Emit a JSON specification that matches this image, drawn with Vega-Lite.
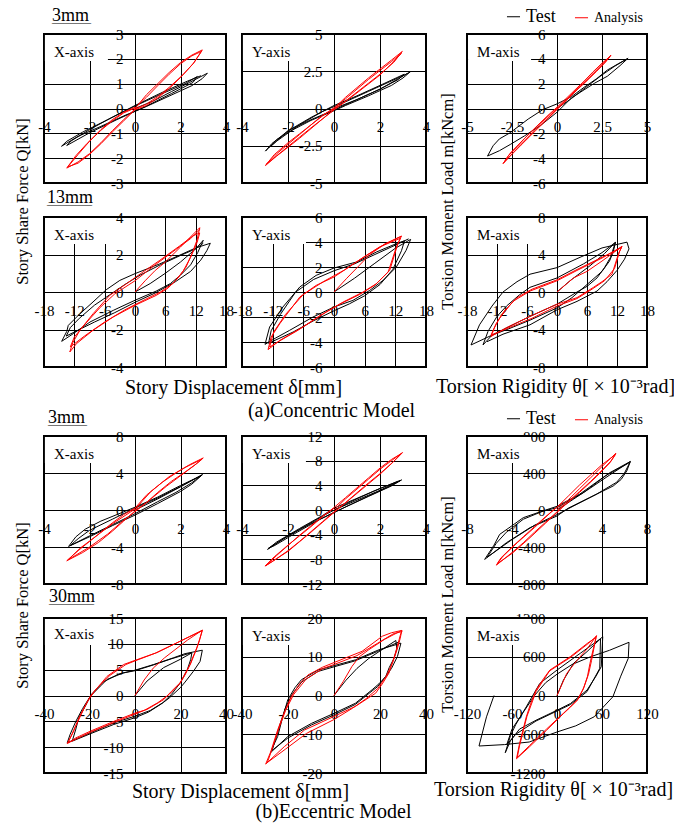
{
"$schema":"https://vega.github.io/schema/vega-lite/v6.json",
"padding":{"left":13,"top":6,"right":5,"bottom":0},
"columns":4,
"bounds":"flush",
"spacing":{"row":34,"column":16},
"resolve":{"scale":{"color":"independent"},"legend":{"color":"independent"}},
"config":{
 "font":"Liberation Serif",
 "view":{"stroke":"black","strokeWidth":2},
 "axis":{"domain":false,"ticks":false,"tickSize":0,"tickCount":20,"grid":true,"gridColor":"black","gridWidth":1,"gridOpacity":1,"labelFontSize":15,"labelColor":"black","labelOverlap":false,"labelFlush":false,"labelBound":false,"labelFont":"Liberation Serif","titleFontWeight":"normal","titleFontSize":20,"titleColor":"black","titleFont":"Liberation Serif","titleBaseline":"middle","titleAlign":"center","labelExpr":"'' + datum.value"},
 "axisX":{"labelPadding":11},
 "axisY":{"labelPadding":12,"titleFontSize":16.5},
 "title":{"font":"Liberation Serif","fontSize":18,"fontWeight":"normal","color":"black","anchor":"start","frame":"group","subtitleColor":"black","subtitleFont":"Liberation Serif"},
 "line":{"strokeWidth":1},
 "text":{"font":"Liberation Serif","color":"black"}
},
"datasets":{
"p1":[
{"s":"Test","i":0,"x":0,"y":0},{"s":"Test","i":1,"x":0.8,"y":0.3},{"s":"Test","i":2,"x":1.6,"y":0.68},{"s":"Test","i":3,"x":2.4,"y":1.05},{"s":"Test","i":4,"x":3.18,"y":1.42},{"s":"Test","i":5,"x":2.95,"y":1.2},{"s":"Test","i":6,"x":2.5,"y":0.92},{"s":"Test","i":7,"x":1.5,"y":0.5},{"s":"Test","i":8,"x":0.5,"y":0.08},{"s":"Test","i":9,"x":-0.5,"y":-0.3},{"s":"Test","i":10,"x":-1.5,"y":-0.72},{"s":"Test","i":11,"x":-2.5,"y":-1.12},{"s":"Test","i":12,"x":-3.23,"y":-1.52},{"s":"Test","i":13,"x":-3.0,"y":-1.32},{"s":"Test","i":14,"x":-2.3,"y":-0.95},{"s":"Test","i":15,"x":-1.2,"y":-0.45},{"s":"Test","i":16,"x":0,"y":0.1},{"s":"Test","i":17,"x":1.2,"y":0.6},{"s":"Test","i":18,"x":2.2,"y":1.0},{"s":"Test","i":19,"x":2.74,"y":1.29},{"s":"Test","i":20,"x":2.55,"y":1.05},{"s":"Test","i":21,"x":1.6,"y":0.6},{"s":"Test","i":22,"x":0.4,"y":0.05},{"s":"Test","i":23,"x":-0.8,"y":-0.45},{"s":"Test","i":24,"x":-2.0,"y":-0.98},{"s":"Test","i":25,"x":-3.0,"y":-1.49},{"s":"Test","i":26,"x":-2.8,"y":-1.3},{"s":"Test","i":27,"x":-2.0,"y":-0.85},{"s":"Test","i":28,"x":-1.0,"y":-0.35},{"s":"Test","i":29,"x":0,"y":0.12},{"s":"Test","i":30,"x":1.2,"y":0.65},{"s":"Test","i":31,"x":2.3,"y":1.1},{"s":"Test","i":32,"x":2.9,"y":1.32},
{"s":"Analysis","i":0,"x":0,"y":0},{"s":"Analysis","i":1,"x":0.5,"y":0.55},{"s":"Analysis","i":2,"x":1,"y":1.0},{"s":"Analysis","i":3,"x":1.5,"y":1.45},{"s":"Analysis","i":4,"x":2,"y":1.85},{"s":"Analysis","i":5,"x":2.5,"y":2.15},{"s":"Analysis","i":6,"x":2.96,"y":2.36},{"s":"Analysis","i":7,"x":2.6,"y":1.85},{"s":"Analysis","i":8,"x":2.1,"y":1.35},{"s":"Analysis","i":9,"x":1.5,"y":0.85},{"s":"Analysis","i":10,"x":1,"y":0.48},{"s":"Analysis","i":11,"x":0.5,"y":0.18},{"s":"Analysis","i":12,"x":0,"y":-0.02},{"s":"Analysis","i":13,"x":-0.5,"y":-0.45},{"s":"Analysis","i":14,"x":-1,"y":-0.9},{"s":"Analysis","i":15,"x":-1.5,"y":-1.38},{"s":"Analysis","i":16,"x":-2,"y":-1.82},{"s":"Analysis","i":17,"x":-2.5,"y":-2.15},{"s":"Analysis","i":18,"x":-3,"y":-2.4},{"s":"Analysis","i":19,"x":-2.6,"y":-1.9},{"s":"Analysis","i":20,"x":-2.1,"y":-1.4},{"s":"Analysis","i":21,"x":-1.5,"y":-0.88},{"s":"Analysis","i":22,"x":-1,"y":-0.5},{"s":"Analysis","i":23,"x":-0.5,"y":-0.18},{"s":"Analysis","i":24,"x":0,"y":0.02},{"s":"Analysis","i":25,"x":0.5,"y":0.45},{"s":"Analysis","i":26,"x":1,"y":0.92},{"s":"Analysis","i":27,"x":1.5,"y":1.38},{"s":"Analysis","i":28,"x":2,"y":1.8},{"s":"Analysis","i":29,"x":2.5,"y":2.12},{"s":"Analysis","i":30,"x":2.92,"y":2.3},{"s":"Analysis","i":31,"x":2.55,"y":1.8},{"s":"Analysis","i":32,"x":2,"y":1.25},{"s":"Analysis","i":33,"x":1.5,"y":0.8},{"s":"Analysis","i":34,"x":1,"y":0.42},{"s":"Analysis","i":35,"x":0.5,"y":0.12},{"s":"Analysis","i":36,"x":0,"y":-0.05},{"s":"Analysis","i":37,"x":-0.5,"y":-0.5},{"s":"Analysis","i":38,"x":-1,"y":-0.95},{"s":"Analysis","i":39,"x":-1.5,"y":-1.42},{"s":"Analysis","i":40,"x":-2,"y":-1.85},{"s":"Analysis","i":41,"x":-2.5,"y":-2.2},{"s":"Analysis","i":42,"x":-2.95,"y":-2.35},{"s":"Analysis","i":43,"x":-2.5,"y":-1.85},{"s":"Analysis","i":44,"x":-2,"y":-1.32},{"s":"Analysis","i":45,"x":-1.5,"y":-0.85},{"s":"Analysis","i":46,"x":-1,"y":-0.45},{"s":"Analysis","i":47,"x":-0.5,"y":-0.15},{"s":"Analysis","i":48,"x":0,"y":0.05}
],
"p2":[
{"s":"Test","i":0,"x":0,"y":0},{"s":"Test","i":1,"x":1,"y":0.6},{"s":"Test","i":2,"x":2,"y":1.3},{"s":"Test","i":3,"x":2.8,"y":2.0},{"s":"Test","i":4,"x":3.33,"y":2.48},{"s":"Test","i":5,"x":3.0,"y":2.05},{"s":"Test","i":6,"x":2.5,"y":1.55},{"s":"Test","i":7,"x":1.5,"y":0.85},{"s":"Test","i":8,"x":0.5,"y":0.2},{"s":"Test","i":9,"x":0,"y":-0.15},{"s":"Test","i":10,"x":-1,"y":-0.8},{"s":"Test","i":11,"x":-2,"y":-1.6},{"s":"Test","i":12,"x":-2.5,"y":-2.1},{"s":"Test","i":13,"x":-2.98,"y":-2.86},{"s":"Test","i":14,"x":-2.7,"y":-2.35},{"s":"Test","i":15,"x":-2,"y":-1.5},{"s":"Test","i":16,"x":-1,"y":-0.6},{"s":"Test","i":17,"x":0,"y":0.2},{"s":"Test","i":18,"x":1,"y":0.85},{"s":"Test","i":19,"x":2,"y":1.55},{"s":"Test","i":20,"x":2.7,"y":2.05},{"s":"Test","i":21,"x":3.05,"y":2.3},{"s":"Test","i":22,"x":2.8,"y":1.95},{"s":"Test","i":23,"x":2,"y":1.3},{"s":"Test","i":24,"x":1,"y":0.6},{"s":"Test","i":25,"x":0,"y":-0.1},{"s":"Test","i":26,"x":-1,"y":-0.75},{"s":"Test","i":27,"x":-2,"y":-1.5},{"s":"Test","i":28,"x":-2.8,"y":-2.6},{"s":"Test","i":29,"x":-2.5,"y":-2.2},{"s":"Test","i":30,"x":-1.5,"y":-1.1},{"s":"Test","i":31,"x":-0.5,"y":-0.2},{"s":"Test","i":32,"x":0.5,"y":0.45},{"s":"Test","i":33,"x":1.5,"y":1.15},{"s":"Test","i":34,"x":2.5,"y":1.85},{"s":"Test","i":35,"x":3.2,"y":2.35},
{"s":"Analysis","i":0,"x":0,"y":0},{"s":"Analysis","i":1,"x":0.5,"y":0.75},{"s":"Analysis","i":2,"x":1,"y":1.4},{"s":"Analysis","i":3,"x":1.5,"y":2.05},{"s":"Analysis","i":4,"x":2,"y":2.65},{"s":"Analysis","i":5,"x":2.5,"y":3.25},{"s":"Analysis","i":6,"x":2.97,"y":3.83},{"s":"Analysis","i":7,"x":2.6,"y":3.1},{"s":"Analysis","i":8,"x":2,"y":2.3},{"s":"Analysis","i":9,"x":1.5,"y":1.7},{"s":"Analysis","i":10,"x":1,"y":1.1},{"s":"Analysis","i":11,"x":0.5,"y":0.5},{"s":"Analysis","i":12,"x":0,"y":-0.05},{"s":"Analysis","i":13,"x":-0.5,"y":-0.7},{"s":"Analysis","i":14,"x":-1,"y":-1.35},{"s":"Analysis","i":15,"x":-1.5,"y":-2.0},{"s":"Analysis","i":16,"x":-2,"y":-2.6},{"s":"Analysis","i":17,"x":-2.5,"y":-3.2},{"s":"Analysis","i":18,"x":-2.98,"y":-3.83},{"s":"Analysis","i":19,"x":-2.6,"y":-3.1},{"s":"Analysis","i":20,"x":-2,"y":-2.3},{"s":"Analysis","i":21,"x":-1.5,"y":-1.7},{"s":"Analysis","i":22,"x":-1,"y":-1.1},{"s":"Analysis","i":23,"x":-0.5,"y":-0.5},{"s":"Analysis","i":24,"x":0,"y":0.05},{"s":"Analysis","i":25,"x":0.5,"y":0.65},{"s":"Analysis","i":26,"x":1,"y":1.3},{"s":"Analysis","i":27,"x":1.5,"y":1.95},{"s":"Analysis","i":28,"x":2,"y":2.55},{"s":"Analysis","i":29,"x":2.5,"y":3.15},{"s":"Analysis","i":30,"x":2.93,"y":3.7},{"s":"Analysis","i":31,"x":2.5,"y":3.0},{"s":"Analysis","i":32,"x":2,"y":2.25},{"s":"Analysis","i":33,"x":1,"y":1.05},{"s":"Analysis","i":34,"x":0,"y":-0.1},{"s":"Analysis","i":35,"x":-1,"y":-1.3},{"s":"Analysis","i":36,"x":-2,"y":-2.55},{"s":"Analysis","i":37,"x":-2.95,"y":-3.75},{"s":"Analysis","i":38,"x":-2.5,"y":-3.05},{"s":"Analysis","i":39,"x":-1.5,"y":-1.75},{"s":"Analysis","i":40,"x":-0.5,"y":-0.45},{"s":"Analysis","i":41,"x":0,"y":0}
],
"p3":[
{"s":"Test","i":0,"x":0,"y":0},{"s":"Test","i":1,"x":0.8,"y":0.8},{"s":"Test","i":2,"x":1.6,"y":1.7},{"s":"Test","i":3,"x":2.5,"y":2.7},{"s":"Test","i":4,"x":3.2,"y":3.4},{"s":"Test","i":5,"x":3.95,"y":4.05},{"s":"Test","i":6,"x":3.5,"y":3.45},{"s":"Test","i":7,"x":2.8,"y":2.6},{"s":"Test","i":8,"x":2.1,"y":2.05},{"s":"Test","i":9,"x":1.5,"y":1.5},{"s":"Test","i":10,"x":0.8,"y":0.85},{"s":"Test","i":11,"x":0,"y":-0.3},{"s":"Test","i":12,"x":-0.9,"y":-1.35},{"s":"Test","i":13,"x":-1.8,"y":-2.2},{"s":"Test","i":14,"x":-2.6,"y":-2.9},{"s":"Test","i":15,"x":-3.2,"y":-3.4},{"s":"Test","i":16,"x":-3.86,"y":-3.83},{"s":"Test","i":17,"x":-3.55,"y":-3.0},{"s":"Test","i":18,"x":-3.2,"y":-2.45},{"s":"Test","i":19,"x":-2.6,"y":-1.95},{"s":"Test","i":20,"x":-1.6,"y":-0.85},{"s":"Test","i":21,"x":-0.8,"y":-0.1},{"s":"Test","i":22,"x":0,"y":0.37},{"s":"Test","i":23,"x":0.8,"y":0.95},{"s":"Test","i":24,"x":1.5,"y":1.7},{"s":"Test","i":25,"x":2.2,"y":2.4},{"s":"Test","i":26,"x":2.8,"y":3.1},{"s":"Test","i":27,"x":3.4,"y":3.6},{"s":"Test","i":28,"x":3.9,"y":4.0},
{"s":"Analysis","i":0,"x":0,"y":0},{"s":"Analysis","i":1,"x":0.5,"y":0.7},{"s":"Analysis","i":2,"x":1,"y":1.4},{"s":"Analysis","i":3,"x":1.5,"y":2.1},{"s":"Analysis","i":4,"x":2,"y":2.8},{"s":"Analysis","i":5,"x":2.5,"y":3.55},{"s":"Analysis","i":6,"x":3.0,"y":4.3},{"s":"Analysis","i":7,"x":2.7,"y":3.75},{"s":"Analysis","i":8,"x":2.2,"y":3.0},{"s":"Analysis","i":9,"x":1.6,"y":2.15},{"s":"Analysis","i":10,"x":1,"y":1.35},{"s":"Analysis","i":11,"x":0.5,"y":0.65},{"s":"Analysis","i":12,"x":0,"y":-0.05},{"s":"Analysis","i":13,"x":-0.5,"y":-0.75},{"s":"Analysis","i":14,"x":-1,"y":-1.45},{"s":"Analysis","i":15,"x":-1.5,"y":-2.15},{"s":"Analysis","i":16,"x":-2,"y":-2.9},{"s":"Analysis","i":17,"x":-2.5,"y":-3.65},{"s":"Analysis","i":18,"x":-3.0,"y":-4.45},{"s":"Analysis","i":19,"x":-2.7,"y":-3.8},{"s":"Analysis","i":20,"x":-2.2,"y":-3.05},{"s":"Analysis","i":21,"x":-1.6,"y":-2.1},{"s":"Analysis","i":22,"x":-1,"y":-1.25},{"s":"Analysis","i":23,"x":-0.5,"y":-0.55},{"s":"Analysis","i":24,"x":0,"y":0.1},{"s":"Analysis","i":25,"x":0.5,"y":0.8},{"s":"Analysis","i":26,"x":1,"y":1.5},{"s":"Analysis","i":27,"x":1.5,"y":2.2},{"s":"Analysis","i":28,"x":2,"y":2.95},{"s":"Analysis","i":29,"x":2.5,"y":3.65},{"s":"Analysis","i":30,"x":2.95,"y":4.2},{"s":"Analysis","i":31,"x":2.6,"y":3.6},{"s":"Analysis","i":32,"x":2,"y":2.75},{"s":"Analysis","i":33,"x":1.4,"y":1.9},{"s":"Analysis","i":34,"x":0.8,"y":1.05},{"s":"Analysis","i":35,"x":0.2,"y":0.2},{"s":"Analysis","i":36,"x":-0.5,"y":-0.8},{"s":"Analysis","i":37,"x":-1.2,"y":-1.8},{"s":"Analysis","i":38,"x":-2,"y":-2.95},{"s":"Analysis","i":39,"x":-2.95,"y":-4.35},{"s":"Analysis","i":40,"x":-2.6,"y":-3.6},{"s":"Analysis","i":41,"x":-1.8,"y":-2.4},{"s":"Analysis","i":42,"x":-1,"y":-1.3},{"s":"Analysis","i":43,"x":0,"y":0.05}
],
"p4":[
{"s":"Test","i":0,"x":0,"y":0},{"s":"Test","i":1,"x":3,"y":0.45},{"s":"Test","i":2,"x":6,"y":1.0},{"s":"Test","i":3,"x":9,"y":1.6},{"s":"Test","i":4,"x":12,"y":2.3},{"s":"Test","i":5,"x":13.5,"y":2.76},{"s":"Test","i":6,"x":12.4,"y":2.1},{"s":"Test","i":7,"x":11,"y":1.45},{"s":"Test","i":8,"x":9,"y":0.9},{"s":"Test","i":9,"x":7,"y":0.45},{"s":"Test","i":10,"x":4.2,"y":0.05},{"s":"Test","i":11,"x":0,"y":-0.44},{"s":"Test","i":12,"x":-4.3,"y":-0.98},{"s":"Test","i":13,"x":-8.9,"y":-1.6},{"s":"Test","i":14,"x":-12.2,"y":-2.22},{"s":"Test","i":15,"x":-14.5,"y":-2.63},{"s":"Test","i":16,"x":-13.5,"y":-2.1},{"s":"Test","i":17,"x":-13.2,"y":-1.78},{"s":"Test","i":18,"x":-10.9,"y":-1.16},{"s":"Test","i":19,"x":-8.3,"y":-0.53},{"s":"Test","i":20,"x":-5.7,"y":0.12},{"s":"Test","i":21,"x":-3,"y":0.62},{"s":"Test","i":22,"x":0,"y":0.98},{"s":"Test","i":23,"x":4.9,"y":1.5},{"s":"Test","i":24,"x":8.8,"y":1.96},{"s":"Test","i":25,"x":12,"y":2.35},{"s":"Test","i":26,"x":14.9,"y":2.6},{"s":"Test","i":27,"x":14.2,"y":2.2},{"s":"Test","i":28,"x":13,"y":1.7},{"s":"Test","i":29,"x":11,"y":1.1},{"s":"Test","i":30,"x":8,"y":0.55},{"s":"Test","i":31,"x":4,"y":-0.05},{"s":"Test","i":32,"x":0,"y":-0.55},{"s":"Test","i":33,"x":-4,"y":-1.1},{"s":"Test","i":34,"x":-8,"y":-1.6},{"s":"Test","i":35,"x":-11,"y":-2.0},{"s":"Test","i":36,"x":-13.6,"y":-2.35},{"s":"Test","i":37,"x":-12.8,"y":-1.9},{"s":"Test","i":38,"x":-11,"y":-1.4},{"s":"Test","i":39,"x":-8,"y":-0.7},{"s":"Test","i":40,"x":-5,"y":-0.15},{"s":"Test","i":41,"x":-2,"y":0.4},{"s":"Test","i":42,"x":1,"y":0.9},{"s":"Test","i":43,"x":5,"y":1.45},{"s":"Test","i":44,"x":9,"y":1.95},{"s":"Test","i":45,"x":12,"y":2.3},{"s":"Test","i":46,"x":13.5,"y":2.6},
{"s":"Analysis","i":0,"x":0,"y":0},{"s":"Analysis","i":1,"x":2,"y":0.6},{"s":"Analysis","i":2,"x":4,"y":1.15},{"s":"Analysis","i":3,"x":6,"y":1.6},{"s":"Analysis","i":4,"x":9,"y":2.4},{"s":"Analysis","i":5,"x":12.8,"y":3.43},{"s":"Analysis","i":6,"x":12.3,"y":2.8},{"s":"Analysis","i":7,"x":11.5,"y":2.2},{"s":"Analysis","i":8,"x":10.1,"y":1.33},{"s":"Analysis","i":9,"x":8.5,"y":0.75},{"s":"Analysis","i":10,"x":6.5,"y":0.2},{"s":"Analysis","i":11,"x":4.2,"y":-0.18},{"s":"Analysis","i":12,"x":0,"y":-0.71},{"s":"Analysis","i":13,"x":-4.3,"y":-1.33},{"s":"Analysis","i":14,"x":-8.3,"y":-2.04},{"s":"Analysis","i":15,"x":-11.6,"y":-2.76},{"s":"Analysis","i":16,"x":-12.9,"y":-3.2},{"s":"Analysis","i":17,"x":-12.3,"y":-2.7},{"s":"Analysis","i":18,"x":-10.9,"y":-2.04},{"s":"Analysis","i":19,"x":-8.3,"y":-1.16},{"s":"Analysis","i":20,"x":-5,"y":-0.18},{"s":"Analysis","i":21,"x":-1.7,"y":0.44},{"s":"Analysis","i":22,"x":1.6,"y":1.07},{"s":"Analysis","i":23,"x":4.9,"y":1.69},{"s":"Analysis","i":24,"x":8.8,"y":2.45},{"s":"Analysis","i":25,"x":11.5,"y":3.0},{"s":"Analysis","i":26,"x":12.8,"y":3.15},{"s":"Analysis","i":27,"x":12.3,"y":2.65},{"s":"Analysis","i":28,"x":11,"y":1.85},{"s":"Analysis","i":29,"x":9.5,"y":1.1},{"s":"Analysis","i":30,"x":7.5,"y":0.45},{"s":"Analysis","i":31,"x":5,"y":0},{"s":"Analysis","i":32,"x":2,"y":-0.4},{"s":"Analysis","i":33,"x":-2,"y":-0.95},{"s":"Analysis","i":34,"x":-6,"y":-1.6},{"s":"Analysis","i":35,"x":-10,"y":-2.35},{"s":"Analysis","i":36,"x":-12.8,"y":-2.93},{"s":"Analysis","i":37,"x":-12,"y":-2.4},{"s":"Analysis","i":38,"x":-10,"y":-1.75},{"s":"Analysis","i":39,"x":-7,"y":-0.85},{"s":"Analysis","i":40,"x":-4,"y":-0.1},{"s":"Analysis","i":41,"x":0,"y":0.6},{"s":"Analysis","i":42,"x":4,"y":1.45},{"s":"Analysis","i":43,"x":8,"y":2.25},{"s":"Analysis","i":44,"x":11,"y":2.85},{"s":"Analysis","i":45,"x":12.9,"y":3.35}
],
"p5":[
{"s":"Test","i":0,"x":0,"y":0},{"s":"Test","i":1,"x":4,"y":1.1},{"s":"Test","i":2,"x":8,"y":2.3},{"s":"Test","i":3,"x":12,"y":3.5},{"s":"Test","i":4,"x":15,"y":4.21},{"s":"Test","i":5,"x":14.1,"y":3.33},{"s":"Test","i":6,"x":12.2,"y":2.0},{"s":"Test","i":7,"x":9.6,"y":0.93},{"s":"Test","i":8,"x":7,"y":0.13},{"s":"Test","i":9,"x":3.7,"y":-0.67},{"s":"Test","i":10,"x":0,"y":-1.2},{"s":"Test","i":11,"x":-4.1,"y":-2.0},{"s":"Test","i":12,"x":-8.7,"y":-3.07},{"s":"Test","i":13,"x":-11.5,"y":-3.7},{"s":"Test","i":14,"x":-13.5,"y":-4.19},{"s":"Test","i":15,"x":-12.6,"y":-2.8},{"s":"Test","i":16,"x":-10,"y":-1.2},{"s":"Test","i":17,"x":-6.7,"y":0.4},{"s":"Test","i":18,"x":-3.5,"y":1.33},{"s":"Test","i":19,"x":0,"y":1.92},{"s":"Test","i":20,"x":4.4,"y":2.4},{"s":"Test","i":21,"x":8.3,"y":3.2},{"s":"Test","i":22,"x":12.2,"y":3.87},{"s":"Test","i":23,"x":13.8,"y":4.1},{"s":"Test","i":24,"x":13.2,"y":3.3},{"s":"Test","i":25,"x":11.5,"y":1.8},{"s":"Test","i":26,"x":9,"y":0.6},{"s":"Test","i":27,"x":6,"y":-0.3},{"s":"Test","i":28,"x":3,"y":-0.95},{"s":"Test","i":29,"x":0,"y":-1.5},{"s":"Test","i":30,"x":-4,"y":-2.3},{"s":"Test","i":31,"x":-8,"y":-3.2},{"s":"Test","i":32,"x":-12.8,"y":-4.1},{"s":"Test","i":33,"x":-12.3,"y":-3.1},{"s":"Test","i":34,"x":-10.5,"y":-1.8},{"s":"Test","i":35,"x":-7.5,"y":0.0},{"s":"Test","i":36,"x":-4,"y":1.0},{"s":"Test","i":37,"x":0,"y":1.7},{"s":"Test","i":38,"x":4,"y":2.25},{"s":"Test","i":39,"x":8,"y":3.0},{"s":"Test","i":40,"x":12,"y":3.75},{"s":"Test","i":41,"x":14.6,"y":4.25},
{"s":"Analysis","i":0,"x":0,"y":0},{"s":"Analysis","i":1,"x":2.5,"y":1.1},{"s":"Analysis","i":2,"x":5,"y":2.15},{"s":"Analysis","i":3,"x":7,"y":3.0},{"s":"Analysis","i":4,"x":10,"y":3.85},{"s":"Analysis","i":5,"x":13.2,"y":4.48},{"s":"Analysis","i":6,"x":12.5,"y":3.87},{"s":"Analysis","i":7,"x":10.9,"y":1.73},{"s":"Analysis","i":8,"x":8.3,"y":0.67},{"s":"Analysis","i":9,"x":5.7,"y":0},{"s":"Analysis","i":10,"x":1.8,"y":-0.8},{"s":"Analysis","i":11,"x":-1.5,"y":-1.6},{"s":"Analysis","i":12,"x":-6.1,"y":-2.8},{"s":"Analysis","i":13,"x":-10.6,"y":-3.87},{"s":"Analysis","i":14,"x":-12.9,"y":-4.61},{"s":"Analysis","i":15,"x":-12.3,"y":-3.6},{"s":"Analysis","i":16,"x":-10.6,"y":-2.53},{"s":"Analysis","i":17,"x":-6.7,"y":-0.4},{"s":"Analysis","i":18,"x":-3.5,"y":0.53},{"s":"Analysis","i":19,"x":0,"y":1.2},{"s":"Analysis","i":20,"x":4.4,"y":2.4},{"s":"Analysis","i":21,"x":8.9,"y":3.6},{"s":"Analysis","i":22,"x":13.0,"y":4.3},{"s":"Analysis","i":23,"x":12.2,"y":3.6},{"s":"Analysis","i":24,"x":10.6,"y":1.6},{"s":"Analysis","i":25,"x":8,"y":0.55},{"s":"Analysis","i":26,"x":5,"y":-0.2},{"s":"Analysis","i":27,"x":1,"y":-1.0},{"s":"Analysis","i":28,"x":-3,"y":-1.95},{"s":"Analysis","i":29,"x":-7,"y":-3.05},{"s":"Analysis","i":30,"x":-11,"y":-4.0},{"s":"Analysis","i":31,"x":-12.6,"y":-4.4},{"s":"Analysis","i":32,"x":-11.8,"y":-3.2},{"s":"Analysis","i":33,"x":-9.5,"y":-1.8},{"s":"Analysis","i":34,"x":-6,"y":-0.2},{"s":"Analysis","i":35,"x":-2,"y":0.85},{"s":"Analysis","i":36,"x":2,"y":1.75},{"s":"Analysis","i":37,"x":6,"y":2.85},{"s":"Analysis","i":38,"x":10,"y":3.85},{"s":"Analysis","i":39,"x":13.2,"y":4.45}
],
"p6":[
{"s":"Test","i":0,"x":0,"y":0},{"s":"Test","i":1,"x":2.6,"y":1.2},{"s":"Test","i":2,"x":6.6,"y":2.8},{"s":"Test","i":3,"x":9.5,"y":4.1},{"s":"Test","i":4,"x":11.7,"y":5.32},{"s":"Test","i":5,"x":10.7,"y":3.7},{"s":"Test","i":6,"x":9.5,"y":2.6},{"s":"Test","i":7,"x":8,"y":1.5},{"s":"Test","i":8,"x":6,"y":0.6},{"s":"Test","i":9,"x":4,"y":0},{"s":"Test","i":10,"x":0,"y":-1.3},{"s":"Test","i":11,"x":-5.4,"y":-2.6},{"s":"Test","i":12,"x":-10,"y":-3.8},{"s":"Test","i":13,"x":-13,"y":-4.6},{"s":"Test","i":14,"x":-14.8,"y":-5.65},{"s":"Test","i":15,"x":-13.8,"y":-4.2},{"s":"Test","i":16,"x":-12,"y":-2.6},{"s":"Test","i":17,"x":-10.1,"y":-1.5},{"s":"Test","i":18,"x":-7.5,"y":-0.3},{"s":"Test","i":19,"x":-5.4,"y":0.5},{"s":"Test","i":20,"x":0,"y":1.5},{"s":"Test","i":21,"x":5.3,"y":3.0},{"s":"Test","i":22,"x":9,"y":4.2},{"s":"Test","i":23,"x":11.7,"y":5.3},{"s":"Test","i":24,"x":11.2,"y":4.2},{"s":"Test","i":25,"x":10.5,"y":3.3},{"s":"Test","i":26,"x":9,"y":2.2},{"s":"Test","i":27,"x":6,"y":0.8},{"s":"Test","i":28,"x":3,"y":-0.6},{"s":"Test","i":29,"x":0,"y":-1.7},{"s":"Test","i":30,"x":-5.4,"y":-3.0},{"s":"Test","i":31,"x":-10,"y":-4.0},{"s":"Test","i":32,"x":-13,"y":-4.6},{"s":"Test","i":33,"x":-17.2,"y":-5.65},{"s":"Test","i":34,"x":-15.5,"y":-3.5},{"s":"Test","i":35,"x":-13,"y":-1.5},{"s":"Test","i":36,"x":-10.8,"y":0},{"s":"Test","i":37,"x":-8,"y":1.1},{"s":"Test","i":38,"x":-5.4,"y":1.9},{"s":"Test","i":39,"x":0,"y":2.6},{"s":"Test","i":40,"x":4.6,"y":3.7},{"s":"Test","i":41,"x":9,"y":4.7},{"s":"Test","i":42,"x":14,"y":5.32},{"s":"Test","i":43,"x":14.4,"y":4.6},{"s":"Test","i":44,"x":13.5,"y":3.5},{"s":"Test","i":45,"x":12,"y":2.3},{"s":"Test","i":46,"x":10,"y":1.1},{"s":"Test","i":47,"x":8,"y":0.1},{"s":"Test","i":48,"x":4,"y":-1.0},{"s":"Test","i":49,"x":0,"y":-1.9},{"s":"Test","i":50,"x":-5.4,"y":-3.5},{"s":"Test","i":51,"x":-10.8,"y":-4.5},{"s":"Test","i":52,"x":-14,"y":-5.3},
{"s":"Analysis","i":0,"x":0,"y":0},{"s":"Analysis","i":1,"x":3.3,"y":1.5},{"s":"Analysis","i":2,"x":6,"y":2.2},{"s":"Analysis","i":3,"x":9,"y":3.3},{"s":"Analysis","i":4,"x":13,"y":4.86},{"s":"Analysis","i":5,"x":12.3,"y":4.1},{"s":"Analysis","i":6,"x":11,"y":1.9},{"s":"Analysis","i":7,"x":9,"y":1.1},{"s":"Analysis","i":8,"x":7.3,"y":0.5},{"s":"Analysis","i":9,"x":4,"y":-0.6},{"s":"Analysis","i":10,"x":0,"y":-1.3},{"s":"Analysis","i":11,"x":-5.4,"y":-2.6},{"s":"Analysis","i":12,"x":-10.1,"y":-3.8},{"s":"Analysis","i":13,"x":-13.2,"y":-4.75},{"s":"Analysis","i":14,"x":-12.5,"y":-3.8},{"s":"Analysis","i":15,"x":-11.5,"y":-2.8},{"s":"Analysis","i":16,"x":-8.8,"y":-1.0},{"s":"Analysis","i":17,"x":-5.4,"y":0.1},{"s":"Analysis","i":18,"x":0,"y":1.2},{"s":"Analysis","i":19,"x":4,"y":2.3},{"s":"Analysis","i":20,"x":9.3,"y":3.7},{"s":"Analysis","i":21,"x":13,"y":4.86},{"s":"Analysis","i":22,"x":12.5,"y":4.3},{"s":"Analysis","i":23,"x":11.5,"y":2.5},{"s":"Analysis","i":24,"x":9.5,"y":1.2},{"s":"Analysis","i":25,"x":7,"y":0.3},{"s":"Analysis","i":26,"x":4,"y":-0.7},{"s":"Analysis","i":27,"x":0,"y":-1.5},{"s":"Analysis","i":28,"x":-5,"y":-2.8},{"s":"Analysis","i":29,"x":-10,"y":-3.9},{"s":"Analysis","i":30,"x":-13.2,"y":-4.6},{"s":"Analysis","i":31,"x":-12.2,"y":-3.4},{"s":"Analysis","i":32,"x":-10.5,"y":-2.0},{"s":"Analysis","i":33,"x":-8,"y":-0.6},{"s":"Analysis","i":34,"x":-5,"y":0.3},{"s":"Analysis","i":35,"x":0,"y":1.3},{"s":"Analysis","i":36,"x":4,"y":2.4},{"s":"Analysis","i":37,"x":9,"y":3.7},{"s":"Analysis","i":38,"x":12.8,"y":4.7}
],
"p7":[
{"s":"Test","i":0,"x":0,"y":0},{"s":"Test","i":1,"x":1,"y":1.2},{"s":"Test","i":2,"x":2,"y":2.5},{"s":"Test","i":3,"x":2.97,"y":3.83},{"s":"Test","i":4,"x":2.5,"y":2.8},{"s":"Test","i":5,"x":2,"y":2.0},{"s":"Test","i":6,"x":1,"y":0.7},{"s":"Test","i":7,"x":0,"y":-0.55},{"s":"Test","i":8,"x":-1,"y":-1.7},{"s":"Test","i":9,"x":-2,"y":-2.9},{"s":"Test","i":10,"x":-2.92,"y":-3.94},{"s":"Test","i":11,"x":-2.6,"y":-2.9},{"s":"Test","i":12,"x":-2.18,"y":-2.06},{"s":"Test","i":13,"x":-1.5,"y":-1.2},{"s":"Test","i":14,"x":-0.5,"y":-0.2},{"s":"Test","i":15,"x":0,"y":0.3},{"s":"Test","i":16,"x":1,"y":1.4},{"s":"Test","i":17,"x":2,"y":2.65},{"s":"Test","i":18,"x":2.9,"y":3.7},{"s":"Test","i":19,"x":2.5,"y":2.95},{"s":"Test","i":20,"x":1.8,"y":1.9},{"s":"Test","i":21,"x":1,"y":0.9},{"s":"Test","i":22,"x":0,"y":-0.4},{"s":"Test","i":23,"x":-1,"y":-1.6},{"s":"Test","i":24,"x":-2,"y":-2.8},{"s":"Test","i":25,"x":-2.85,"y":-3.85},{"s":"Test","i":26,"x":-2.5,"y":-3.1},{"s":"Test","i":27,"x":-2,"y":-2.2},{"s":"Test","i":28,"x":-1,"y":-1.0},{"s":"Test","i":29,"x":0,"y":0.2},{"s":"Test","i":30,"x":1,"y":1.3},{"s":"Test","i":31,"x":2,"y":2.55},{"s":"Test","i":32,"x":2.95,"y":3.8},
{"s":"Analysis","i":0,"x":0,"y":0},{"s":"Analysis","i":1,"x":0.3,"y":0.9},{"s":"Analysis","i":2,"x":0.7,"y":2.0},{"s":"Analysis","i":3,"x":1.2,"y":3.0},{"s":"Analysis","i":4,"x":1.8,"y":4.0},{"s":"Analysis","i":5,"x":2.4,"y":4.9},{"s":"Analysis","i":6,"x":3.0,"y":5.63},{"s":"Analysis","i":7,"x":2.7,"y":5.0},{"s":"Analysis","i":8,"x":2.2,"y":4.1},{"s":"Analysis","i":9,"x":1.6,"y":3.1},{"s":"Analysis","i":10,"x":1,"y":1.9},{"s":"Analysis","i":11,"x":0.5,"y":0.8},{"s":"Analysis","i":12,"x":0,"y":-0.1},{"s":"Analysis","i":13,"x":-0.5,"y":-1.2},{"s":"Analysis","i":14,"x":-1,"y":-2.3},{"s":"Analysis","i":15,"x":-1.6,"y":-3.5},{"s":"Analysis","i":16,"x":-2.3,"y":-4.6},{"s":"Analysis","i":17,"x":-3.0,"y":-5.49},{"s":"Analysis","i":18,"x":-2.5,"y":-4.4},{"s":"Analysis","i":19,"x":-2,"y":-3.4},{"s":"Analysis","i":20,"x":-1.5,"y":-2.4},{"s":"Analysis","i":21,"x":-1,"y":-1.4},{"s":"Analysis","i":22,"x":-0.5,"y":-0.5},{"s":"Analysis","i":23,"x":0,"y":0.2},{"s":"Analysis","i":24,"x":0.5,"y":1.6},{"s":"Analysis","i":25,"x":1,"y":2.6},{"s":"Analysis","i":26,"x":1.5,"y":3.6},{"s":"Analysis","i":27,"x":2.2,"y":4.6},{"s":"Analysis","i":28,"x":2.95,"y":5.5},{"s":"Analysis","i":29,"x":2.6,"y":4.8},{"s":"Analysis","i":30,"x":2,"y":3.7},{"s":"Analysis","i":31,"x":1.4,"y":2.6},{"s":"Analysis","i":32,"x":0.8,"y":1.4},{"s":"Analysis","i":33,"x":0.2,"y":0.2},{"s":"Analysis","i":34,"x":-0.5,"y":-1.1},{"s":"Analysis","i":35,"x":-1.2,"y":-2.6},{"s":"Analysis","i":36,"x":-2,"y":-4.0},{"s":"Analysis","i":37,"x":-2.95,"y":-5.4},{"s":"Analysis","i":38,"x":-2.4,"y":-4.1},{"s":"Analysis","i":39,"x":-1.8,"y":-3.0},{"s":"Analysis","i":40,"x":-1,"y":-1.5},{"s":"Analysis","i":41,"x":0,"y":0.1}
],
"p8":[
{"s":"Test","i":0,"x":0,"y":0},{"s":"Test","i":1,"x":1,"y":1.6},{"s":"Test","i":2,"x":2,"y":3.2},{"s":"Test","i":3,"x":2.94,"y":4.88},{"s":"Test","i":4,"x":2.5,"y":3.9},{"s":"Test","i":5,"x":1.5,"y":2.2},{"s":"Test","i":6,"x":0.5,"y":0.5},{"s":"Test","i":7,"x":0,"y":-0.4},{"s":"Test","i":8,"x":-1,"y":-2.2},{"s":"Test","i":9,"x":-2,"y":-4.2},{"s":"Test","i":10,"x":-2.89,"y":-6.39},{"s":"Test","i":11,"x":-2.5,"y":-5.2},{"s":"Test","i":12,"x":-1.5,"y":-3.0},{"s":"Test","i":13,"x":-0.5,"y":-0.9},{"s":"Test","i":14,"x":0,"y":0.3},{"s":"Test","i":15,"x":1,"y":1.9},{"s":"Test","i":16,"x":2,"y":3.5},{"s":"Test","i":17,"x":2.9,"y":4.8},{"s":"Test","i":18,"x":2.4,"y":3.8},{"s":"Test","i":19,"x":1.4,"y":2.1},{"s":"Test","i":20,"x":0.4,"y":0.3},{"s":"Test","i":21,"x":-0.6,"y":-1.5},{"s":"Test","i":22,"x":-1.6,"y":-3.6},{"s":"Test","i":23,"x":-2.6,"y":-5.8},{"s":"Test","i":24,"x":-2.85,"y":-6.2},{"s":"Test","i":25,"x":-2.3,"y":-4.9},{"s":"Test","i":26,"x":-1.3,"y":-2.7},{"s":"Test","i":27,"x":-0.3,"y":-0.6},{"s":"Test","i":28,"x":0.7,"y":1.3},{"s":"Test","i":29,"x":1.7,"y":3.0},{"s":"Test","i":30,"x":2.8,"y":4.7},
{"s":"Analysis","i":0,"x":0,"y":0},{"s":"Analysis","i":1,"x":0.5,"y":1.8},{"s":"Analysis","i":2,"x":1,"y":3.4},{"s":"Analysis","i":3,"x":1.5,"y":5.0},{"s":"Analysis","i":4,"x":2,"y":6.6},{"s":"Analysis","i":5,"x":2.5,"y":8.0},{"s":"Analysis","i":6,"x":2.98,"y":9.32},{"s":"Analysis","i":7,"x":2.6,"y":7.9},{"s":"Analysis","i":8,"x":2,"y":5.9},{"s":"Analysis","i":9,"x":1.5,"y":4.4},{"s":"Analysis","i":10,"x":1,"y":2.8},{"s":"Analysis","i":11,"x":0.5,"y":1.2},{"s":"Analysis","i":12,"x":0,"y":-0.3},{"s":"Analysis","i":13,"x":-0.5,"y":-1.9},{"s":"Analysis","i":14,"x":-1,"y":-3.5},{"s":"Analysis","i":15,"x":-1.5,"y":-5.1},{"s":"Analysis","i":16,"x":-2,"y":-6.6},{"s":"Analysis","i":17,"x":-2.5,"y":-7.9},{"s":"Analysis","i":18,"x":-3.0,"y":-9.1},{"s":"Analysis","i":19,"x":-2.6,"y":-7.6},{"s":"Analysis","i":20,"x":-2,"y":-5.7},{"s":"Analysis","i":21,"x":-1.5,"y":-4.2},{"s":"Analysis","i":22,"x":-1,"y":-2.7},{"s":"Analysis","i":23,"x":-0.5,"y":-1.1},{"s":"Analysis","i":24,"x":0,"y":0.4},{"s":"Analysis","i":25,"x":0.5,"y":2.0},{"s":"Analysis","i":26,"x":1,"y":3.6},{"s":"Analysis","i":27,"x":1.5,"y":5.2},{"s":"Analysis","i":28,"x":2,"y":6.8},{"s":"Analysis","i":29,"x":2.5,"y":8.2},{"s":"Analysis","i":30,"x":2.95,"y":9.2},{"s":"Analysis","i":31,"x":2.55,"y":7.7},{"s":"Analysis","i":32,"x":2,"y":5.8},{"s":"Analysis","i":33,"x":1,"y":2.7},{"s":"Analysis","i":34,"x":0,"y":-0.4},{"s":"Analysis","i":35,"x":-1,"y":-3.6},{"s":"Analysis","i":36,"x":-2,"y":-6.7},{"s":"Analysis","i":37,"x":-2.95,"y":-9.0},{"s":"Analysis","i":38,"x":-2.5,"y":-7.4},{"s":"Analysis","i":39,"x":-1.5,"y":-4.1},{"s":"Analysis","i":40,"x":-0.5,"y":-1.0},{"s":"Analysis","i":41,"x":0,"y":0.3}
],
"p9":[
{"s":"Test","i":0,"x":0,"y":0},{"s":"Test","i":1,"x":1.5,"y":120},{"s":"Test","i":2,"x":3,"y":240},{"s":"Test","i":3,"x":4.7,"y":380},{"s":"Test","i":4,"x":6.52,"y":524},{"s":"Test","i":5,"x":6.2,"y":422},{"s":"Test","i":6,"x":5.7,"y":330},{"s":"Test","i":7,"x":5,"y":260},{"s":"Test","i":8,"x":2.9,"y":134},{"s":"Test","i":9,"x":1,"y":20},{"s":"Test","i":10,"x":0,"y":-65},{"s":"Test","i":11,"x":-2.4,"y":-191},{"s":"Test","i":12,"x":-4.5,"y":-354},{"s":"Test","i":13,"x":-6.43,"y":-534},{"s":"Test","i":14,"x":-5.6,"y":-380},{"s":"Test","i":15,"x":-5.1,"y":-264},{"s":"Test","i":16,"x":-4,"y":-170},{"s":"Test","i":17,"x":-3,"y":-83},{"s":"Test","i":18,"x":-1.5,"y":-20},{"s":"Test","i":19,"x":0,"y":25},{"s":"Test","i":20,"x":2.35,"y":188},{"s":"Test","i":21,"x":4.7,"y":404},{"s":"Test","i":22,"x":6.52,"y":524},{"s":"Test","i":23,"x":6.0,"y":400},{"s":"Test","i":24,"x":5.3,"y":300},{"s":"Test","i":25,"x":3.5,"y":170},{"s":"Test","i":26,"x":1.5,"y":45},{"s":"Test","i":27,"x":0,"y":-50},{"s":"Test","i":28,"x":-2,"y":-165},{"s":"Test","i":29,"x":-4,"y":-320},{"s":"Test","i":30,"x":-6.2,"y":-510},{"s":"Test","i":31,"x":-5.4,"y":-360},{"s":"Test","i":32,"x":-4.5,"y":-240},{"s":"Test","i":33,"x":-3,"y":-100},{"s":"Test","i":34,"x":-1,"y":0},{"s":"Test","i":35,"x":0,"y":40},{"s":"Test","i":36,"x":2,"y":170},{"s":"Test","i":37,"x":4.3,"y":370},{"s":"Test","i":38,"x":6.4,"y":510},
{"s":"Analysis","i":0,"x":0,"y":0},{"s":"Analysis","i":1,"x":1,"y":110},{"s":"Analysis","i":2,"x":2,"y":230},{"s":"Analysis","i":3,"x":3,"y":350},{"s":"Analysis","i":4,"x":4,"y":470},{"s":"Analysis","i":5,"x":5.24,"y":614},{"s":"Analysis","i":6,"x":4.8,"y":530},{"s":"Analysis","i":7,"x":4,"y":430},{"s":"Analysis","i":8,"x":3,"y":310},{"s":"Analysis","i":9,"x":2,"y":200},{"s":"Analysis","i":10,"x":1,"y":90},{"s":"Analysis","i":11,"x":0,"y":-20},{"s":"Analysis","i":12,"x":-1,"y":-130},{"s":"Analysis","i":13,"x":-2,"y":-240},{"s":"Analysis","i":14,"x":-3,"y":-355},{"s":"Analysis","i":15,"x":-4,"y":-460},{"s":"Analysis","i":16,"x":-5.39,"y":-596},{"s":"Analysis","i":17,"x":-5,"y":-520},{"s":"Analysis","i":18,"x":-4,"y":-400},{"s":"Analysis","i":19,"x":-3,"y":-290},{"s":"Analysis","i":20,"x":-2,"y":-180},{"s":"Analysis","i":21,"x":-1,"y":-70},{"s":"Analysis","i":22,"x":0,"y":30},{"s":"Analysis","i":23,"x":1,"y":150},{"s":"Analysis","i":24,"x":2,"y":270},{"s":"Analysis","i":25,"x":3,"y":380},{"s":"Analysis","i":26,"x":4,"y":490},{"s":"Analysis","i":27,"x":5.2,"y":600},{"s":"Analysis","i":28,"x":4.7,"y":510},{"s":"Analysis","i":29,"x":3.5,"y":360},{"s":"Analysis","i":30,"x":2,"y":190},{"s":"Analysis","i":31,"x":0.5,"y":30},{"s":"Analysis","i":32,"x":-1,"y":-140},{"s":"Analysis","i":33,"x":-2.5,"y":-310},{"s":"Analysis","i":34,"x":-4,"y":-470},{"s":"Analysis","i":35,"x":-5.3,"y":-580},{"s":"Analysis","i":36,"x":-4.8,"y":-500},{"s":"Analysis","i":37,"x":-3.5,"y":-350},{"s":"Analysis","i":38,"x":-2,"y":-190},{"s":"Analysis","i":39,"x":-0.5,"y":-20},{"s":"Analysis","i":40,"x":0.5,"y":80}
],
"p10":[
{"s":"Test","i":0,"x":0,"y":0},{"s":"Test","i":1,"x":5.3,"y":2.8},{"s":"Test","i":2,"x":12.6,"y":5.4},{"s":"Test","i":3,"x":19.9,"y":7.0},{"s":"Test","i":4,"x":25,"y":8.26},{"s":"Test","i":5,"x":24.5,"y":7.0},{"s":"Test","i":6,"x":23,"y":5.0},{"s":"Test","i":7,"x":20,"y":2.5},{"s":"Test","i":8,"x":16,"y":0.2},{"s":"Test","i":9,"x":12,"y":-1.5},{"s":"Test","i":10,"x":6,"y":-3.2},{"s":"Test","i":11,"x":0,"y":-4.3},{"s":"Test","i":12,"x":-9.3,"y":-5.6},{"s":"Test","i":13,"x":-19.6,"y":-7.4},{"s":"Test","i":14,"x":-27.6,"y":-8.84},{"s":"Test","i":15,"x":-26,"y":-6.5},{"s":"Test","i":16,"x":-24.7,"y":-4.3},{"s":"Test","i":17,"x":-22,"y":-2.2},{"s":"Test","i":18,"x":-19.6,"y":-0.13},{"s":"Test","i":19,"x":-15,"y":1.9},{"s":"Test","i":20,"x":-12.3,"y":3.1},{"s":"Test","i":21,"x":-5,"y":4.4},{"s":"Test","i":22,"x":0,"y":4.9},{"s":"Test","i":23,"x":8.2,"y":6.0},{"s":"Test","i":24,"x":16.9,"y":7.3},{"s":"Test","i":25,"x":22,"y":8.1},{"s":"Test","i":26,"x":29.6,"y":8.77},{"s":"Test","i":27,"x":28.6,"y":6.6},{"s":"Test","i":28,"x":25.7,"y":4.7},{"s":"Test","i":29,"x":22,"y":2.6},{"s":"Test","i":30,"x":19.9,"y":1.5},{"s":"Test","i":31,"x":15,"y":-0.5},{"s":"Test","i":32,"x":12.6,"y":-1.3},{"s":"Test","i":33,"x":6.7,"y":-2.9},{"s":"Test","i":34,"x":0,"y":-4.0},{"s":"Test","i":35,"x":-9.3,"y":-5.3},{"s":"Test","i":36,"x":-19.6,"y":-7.2},{"s":"Test","i":37,"x":-29.8,"y":-9.16},{"s":"Test","i":38,"x":-28.5,"y":-7.5},{"s":"Test","i":39,"x":-26,"y":-5.0},{"s":"Test","i":40,"x":-23,"y":-2.5},{"s":"Test","i":41,"x":-19,"y":0.3},{"s":"Test","i":42,"x":-14,"y":2.6},{"s":"Test","i":43,"x":-7,"y":4.2},{"s":"Test","i":44,"x":0,"y":4.8},{"s":"Test","i":45,"x":8,"y":5.9},{"s":"Test","i":46,"x":16,"y":7.1},{"s":"Test","i":47,"x":25,"y":8.3},
{"s":"Analysis","i":0,"x":0,"y":0},{"s":"Analysis","i":1,"x":4,"y":3},{"s":"Analysis","i":2,"x":8,"y":5.3},{"s":"Analysis","i":3,"x":13,"y":7.3},{"s":"Analysis","i":4,"x":18,"y":9.0},{"s":"Analysis","i":5,"x":23,"y":10.7},{"s":"Analysis","i":6,"x":29.6,"y":12.65},{"s":"Analysis","i":7,"x":28.5,"y":11.0},{"s":"Analysis","i":8,"x":27.2,"y":9.2},{"s":"Analysis","i":9,"x":25.5,"y":7.5},{"s":"Analysis","i":10,"x":24.2,"y":6.0},{"s":"Analysis","i":11,"x":22,"y":4.2},{"s":"Analysis","i":12,"x":19.9,"y":2.5},{"s":"Analysis","i":13,"x":16,"y":0.8},{"s":"Analysis","i":14,"x":12.6,"y":-0.8},{"s":"Analysis","i":15,"x":5.3,"y":-2.7},{"s":"Analysis","i":16,"x":0,"y":-3.4},{"s":"Analysis","i":17,"x":-9.3,"y":-5.0},{"s":"Analysis","i":18,"x":-19.6,"y":-6.9},{"s":"Analysis","i":19,"x":-26,"y":-8.2},{"s":"Analysis","i":20,"x":-29.8,"y":-9.3},{"s":"Analysis","i":21,"x":-27.5,"y":-7.4},{"s":"Analysis","i":22,"x":-25.4,"y":-5.3},{"s":"Analysis","i":23,"x":-22.5,"y":-2.6},{"s":"Analysis","i":24,"x":-19.6,"y":-0.1},{"s":"Analysis","i":25,"x":-15,"y":2.3},{"s":"Analysis","i":26,"x":-12.3,"y":3.7},{"s":"Analysis","i":27,"x":-5,"y":6.0},{"s":"Analysis","i":28,"x":0,"y":6.8},{"s":"Analysis","i":29,"x":9.6,"y":8.3},{"s":"Analysis","i":30,"x":18.4,"y":10.2},{"s":"Analysis","i":31,"x":24,"y":11.4},{"s":"Analysis","i":32,"x":29.6,"y":12.65},{"s":"Analysis","i":33,"x":28.3,"y":10.6},{"s":"Analysis","i":34,"x":26.5,"y":8.4},{"s":"Analysis","i":35,"x":24.5,"y":6.2},{"s":"Analysis","i":36,"x":22,"y":4.0},{"s":"Analysis","i":37,"x":19.5,"y":2.2},{"s":"Analysis","i":38,"x":15,"y":0.2},{"s":"Analysis","i":39,"x":10,"y":-1.4},{"s":"Analysis","i":40,"x":4,"y":-2.9},{"s":"Analysis","i":41,"x":0,"y":-3.6},{"s":"Analysis","i":42,"x":-9,"y":-5.2},{"s":"Analysis","i":43,"x":-19,"y":-7.0},{"s":"Analysis","i":44,"x":-29.5,"y":-9.2},{"s":"Analysis","i":45,"x":-27,"y":-6.8},{"s":"Analysis","i":46,"x":-24.5,"y":-4.2},{"s":"Analysis","i":47,"x":-21,"y":-1.2},{"s":"Analysis","i":48,"x":-17,"y":1.3},{"s":"Analysis","i":49,"x":-11,"y":3.9},{"s":"Analysis","i":50,"x":-4,"y":6.0},{"s":"Analysis","i":51,"x":0,"y":6.7},{"s":"Analysis","i":52,"x":9,"y":8.2},{"s":"Analysis","i":53,"x":18,"y":10.1},{"s":"Analysis","i":54,"x":24,"y":11.4},{"s":"Analysis","i":55,"x":29.4,"y":12.5}
],
"p11":[
{"s":"Test","i":0,"x":0,"y":0},{"s":"Test","i":1,"x":5,"y":3.8},{"s":"Test","i":2,"x":10,"y":7.0},{"s":"Test","i":3,"x":15,"y":9.5},{"s":"Test","i":4,"x":20,"y":11.5},{"s":"Test","i":5,"x":26.9,"y":14.2},{"s":"Test","i":6,"x":27.3,"y":12},{"s":"Test","i":7,"x":26,"y":9.5},{"s":"Test","i":8,"x":24,"y":7.2},{"s":"Test","i":9,"x":22.5,"y":4.9},{"s":"Test","i":10,"x":19.5,"y":3.0},{"s":"Test","i":11,"x":16.6,"y":1.5},{"s":"Test","i":12,"x":9.3,"y":-2.0},{"s":"Test","i":13,"x":0,"y":-4.6},{"s":"Test","i":14,"x":-9.8,"y":-7.2},{"s":"Test","i":15,"x":-20.1,"y":-10.6},{"s":"Test","i":16,"x":-27.5,"y":-14.7},{"s":"Test","i":17,"x":-26,"y":-12.5},{"s":"Test","i":18,"x":-24.5,"y":-10.6},{"s":"Test","i":19,"x":-22.5,"y":-6.0},{"s":"Test","i":20,"x":-20.1,"y":-1.1},{"s":"Test","i":21,"x":-17,"y":2.0},{"s":"Test","i":22,"x":-14.2,"y":4.05},{"s":"Test","i":23,"x":-6.9,"y":6.6},{"s":"Test","i":24,"x":0,"y":7.7},{"s":"Test","i":25,"x":9.3,"y":9.2},{"s":"Test","i":26,"x":19.5,"y":11.8},{"s":"Test","i":27,"x":29.1,"y":13.5},{"s":"Test","i":28,"x":27.6,"y":10.1},{"s":"Test","i":29,"x":25,"y":7.0},{"s":"Test","i":30,"x":22.5,"y":4.9},{"s":"Test","i":31,"x":19,"y":2.3},{"s":"Test","i":32,"x":16.6,"y":1.2},{"s":"Test","i":33,"x":9.3,"y":-2.3},{"s":"Test","i":34,"x":0,"y":-5.0},{"s":"Test","i":35,"x":-9.8,"y":-7.6},{"s":"Test","i":36,"x":-20.1,"y":-11.0},{"s":"Test","i":37,"x":-27,"y":-14.2},{"s":"Test","i":38,"x":-25.5,"y":-11.5},{"s":"Test","i":39,"x":-23.5,"y":-7.5},{"s":"Test","i":40,"x":-21,"y":-3.0},{"s":"Test","i":41,"x":-18,"y":0.5},{"s":"Test","i":42,"x":-14,"y":3.5},{"s":"Test","i":43,"x":-7,"y":6.2},{"s":"Test","i":44,"x":0,"y":7.4},{"s":"Test","i":45,"x":9,"y":8.9},{"s":"Test","i":46,"x":19,"y":11.4},{"s":"Test","i":47,"x":28.5,"y":13.9},
{"s":"Analysis","i":0,"x":0,"y":0},{"s":"Analysis","i":1,"x":4,"y":3.6},{"s":"Analysis","i":2,"x":7.8,"y":7.5},{"s":"Analysis","i":3,"x":11,"y":10.0},{"s":"Analysis","i":4,"x":15.1,"y":11.8},{"s":"Analysis","i":5,"x":22,"y":14.5},{"s":"Analysis","i":6,"x":29.5,"y":16.8},{"s":"Analysis","i":7,"x":28.8,"y":15.5},{"s":"Analysis","i":8,"x":28.3,"y":14.4},{"s":"Analysis","i":9,"x":26.5,"y":10.5},{"s":"Analysis","i":10,"x":23.9,"y":5.8},{"s":"Analysis","i":11,"x":21,"y":3.0},{"s":"Analysis","i":12,"x":18.1,"y":0.6},{"s":"Analysis","i":13,"x":14,"y":-1.0},{"s":"Analysis","i":14,"x":9.3,"y":-2.8},{"s":"Analysis","i":15,"x":0,"y":-5.4},{"s":"Analysis","i":16,"x":-12.8,"y":-8.9},{"s":"Analysis","i":17,"x":-21.6,"y":-13.2},{"s":"Analysis","i":18,"x":-29.7,"y":-17.7},{"s":"Analysis","i":19,"x":-27.5,"y":-14.5},{"s":"Analysis","i":20,"x":-24.5,"y":-8.9},{"s":"Analysis","i":21,"x":-21.5,"y":-4.2},{"s":"Analysis","i":22,"x":-18.6,"y":-0.3},{"s":"Analysis","i":23,"x":-15,"y":3.0},{"s":"Analysis","i":24,"x":-11.3,"y":5.3},{"s":"Analysis","i":25,"x":-5,"y":7.3},{"s":"Analysis","i":26,"x":0,"y":8.5},{"s":"Analysis","i":27,"x":12.2,"y":11.4},{"s":"Analysis","i":28,"x":21,"y":15.3},{"s":"Analysis","i":29,"x":25,"y":16.2},{"s":"Analysis","i":30,"x":29.5,"y":16.8},{"s":"Analysis","i":31,"x":28.8,"y":14.8},{"s":"Analysis","i":32,"x":27.5,"y":12.0},{"s":"Analysis","i":33,"x":25.5,"y":8.5},{"s":"Analysis","i":34,"x":22.5,"y":4.8},{"s":"Analysis","i":35,"x":19,"y":1.8},{"s":"Analysis","i":36,"x":14,"y":-0.8},{"s":"Analysis","i":37,"x":8,"y":-3.3},{"s":"Analysis","i":38,"x":0,"y":-6.2},{"s":"Analysis","i":39,"x":-12,"y":-9.8},{"s":"Analysis","i":40,"x":-21,"y":-13.8},{"s":"Analysis","i":41,"x":-29,"y":-17.3},{"s":"Analysis","i":42,"x":-27,"y":-14.0},{"s":"Analysis","i":43,"x":-24,"y":-8.5},{"s":"Analysis","i":44,"x":-21,"y":-3.8},{"s":"Analysis","i":45,"x":-17.5,"y":0.3},{"s":"Analysis","i":46,"x":-12,"y":4.3},{"s":"Analysis","i":47,"x":-5,"y":6.9},{"s":"Analysis","i":48,"x":0,"y":8.0},{"s":"Analysis","i":49,"x":10,"y":10.3},{"s":"Analysis","i":50,"x":19,"y":13.5},{"s":"Analysis","i":51,"x":26,"y":16.0},{"s":"Analysis","i":52,"x":29.7,"y":16.5}
],
"p12":[
{"s":"Test","i":0,"x":0,"y":0},{"s":"Test","i":1,"x":8.6,"y":238},{"s":"Test","i":2,"x":22,"y":497},{"s":"Test","i":3,"x":40,"y":679},{"s":"Test","i":4,"x":61,"y":912},{"s":"Test","i":5,"x":59,"y":446},{"s":"Test","i":6,"x":52,"y":300},{"s":"Test","i":7,"x":40,"y":83},{"s":"Test","i":8,"x":28,"y":-30},{"s":"Test","i":9,"x":18,"y":-124},{"s":"Test","i":10,"x":0,"y":-228},{"s":"Test","i":11,"x":-28,"y":-383},{"s":"Test","i":12,"x":-50,"y":-520},{"s":"Test","i":13,"x":-62,"y":-700},{"s":"Test","i":14,"x":-69,"y":-886},{"s":"Test","i":15,"x":-62,"y":-620},{"s":"Test","i":16,"x":-55,"y":-450},{"s":"Test","i":17,"x":-41,"y":-176},{"s":"Test","i":18,"x":-23,"y":187},{"s":"Test","i":19,"x":0,"y":394},{"s":"Test","i":20,"x":31,"y":653},{"s":"Test","i":21,"x":58,"y":880},{"s":"Test","i":22,"x":57,"y":420},{"s":"Test","i":23,"x":40,"y":60},{"s":"Test","i":24,"x":18,"y":-140},{"s":"Test","i":25,"x":0,"y":-240},{"s":"Test","i":26,"x":-28,"y":-395},{"s":"Test","i":27,"x":-55,"y":-600},{"s":"Test","i":28,"x":-67,"y":-760},{"s":"Test","i":29,"x":-60,"y":-520},{"s":"Test","i":30,"x":-45,"y":-260},{"s":"Test","i":31,"x":-30,"y":0},{"s":"Test","i":32,"x":-15,"y":200},{"s":"Test","i":33,"x":0,"y":330},{"s":"Test","i":34,"x":20,"y":480},{"s":"Test","i":35,"x":45,"y":601},{"s":"Test","i":36,"x":70,"y":700},{"s":"Test","i":37,"x":96,"y":824},{"s":"Test","i":38,"x":95,"y":575},{"s":"Test","i":39,"x":85,"y":300},{"s":"Test","i":40,"x":74.5,"y":-20},{"s":"Test","i":41,"x":60,"y":-200},{"s":"Test","i":42,"x":49.5,"y":-330},{"s":"Test","i":43,"x":25,"y":-470},{"s":"Test","i":44,"x":0,"y":-565},{"s":"Test","i":45,"x":-37,"y":-720},{"s":"Test","i":46,"x":-70,"y":-760},{"s":"Test","i":47,"x":-104,"y":-782},{"s":"Test","i":48,"x":-94,"y":-330},{"s":"Test","i":49,"x":-84,"y":0},
{"s":"Analysis","i":0,"x":0,"y":0},{"s":"Analysis","i":1,"x":13,"y":342},{"s":"Analysis","i":2,"x":27,"y":549},{"s":"Analysis","i":3,"x":40,"y":720},{"s":"Analysis","i":4,"x":52.7,"y":927},{"s":"Analysis","i":5,"x":48,"y":705},{"s":"Analysis","i":6,"x":44,"y":500},{"s":"Analysis","i":7,"x":40.5,"y":290},{"s":"Analysis","i":8,"x":35,"y":100},{"s":"Analysis","i":9,"x":27,"y":-73},{"s":"Analysis","i":10,"x":17,"y":-190},{"s":"Analysis","i":11,"x":8.6,"y":-280},{"s":"Analysis","i":12,"x":-14,"y":-539},{"s":"Analysis","i":13,"x":-37,"y":-798},{"s":"Analysis","i":14,"x":-54,"y":-979},{"s":"Analysis","i":15,"x":-50,"y":-746},{"s":"Analysis","i":16,"x":-45,"y":-520},{"s":"Analysis","i":17,"x":-41,"y":-332},{"s":"Analysis","i":18,"x":-35,"y":-120},{"s":"Analysis","i":19,"x":-28,"y":83},{"s":"Analysis","i":20,"x":-18,"y":260},{"s":"Analysis","i":21,"x":-9.5,"y":394},{"s":"Analysis","i":22,"x":17.7,"y":601},{"s":"Analysis","i":23,"x":40.5,"y":808},{"s":"Analysis","i":24,"x":52,"y":900},{"s":"Analysis","i":25,"x":49,"y":720},{"s":"Analysis","i":26,"x":46,"y":540},{"s":"Analysis","i":27,"x":42,"y":330},{"s":"Analysis","i":28,"x":36,"y":130},{"s":"Analysis","i":29,"x":28,"y":-60},{"s":"Analysis","i":30,"x":9,"y":-270},{"s":"Analysis","i":31,"x":-14,"y":-520},{"s":"Analysis","i":32,"x":-37,"y":-780},{"s":"Analysis","i":33,"x":-53,"y":-960},{"s":"Analysis","i":34,"x":-50,"y":-780},{"s":"Analysis","i":35,"x":-44,"y":-500},{"s":"Analysis","i":36,"x":-40,"y":-320},{"s":"Analysis","i":37,"x":-28,"y":60},{"s":"Analysis","i":38,"x":-10,"y":380},{"s":"Analysis","i":39,"x":18,"y":590},{"s":"Analysis","i":40,"x":40,"y":790},{"s":"Analysis","i":41,"x":53,"y":920}
]
},
"concat":[
{"width":182,"height":149,"title":{"text":"3mm","subtitle":"———","subtitleFontSize":13,"subtitlePadding":-9,"dx":8,"offset":-2},"data":{"name":"p1"},"layer":[
 {"mark":{"type":"line"},"encoding":{"x":{"field":"x","type":"quantitative","scale":{"domain":[-4,4],"nice":false,"zero":false},"axis":{"values":[-4,-2,0,2,4],"tickCount":20,"labelOverlap":false,"offset":-74.5,"title":null}},"y":{"field":"y","type":"quantitative","scale":{"domain":[-3,3],"nice":false,"zero":false},"axis":{"values":[-3,-2,-1,0,1,2,3],"tickCount":20,"labelOverlap":false,"offset":-91,"title":"Story Share Force Q[kN]","titleX":-113,"titleY":167}},"color":{"field":"s","type":"nominal","scale":{"domain":["Test","Analysis"],"range":["black","red"]},"legend":null},"order":{"field":"i","type":"quantitative"}}},
 {"data":{"values":[{}]},"mark":{"type":"rect","fill":"white"},"encoding":{"x":{"datum":-3.96,"type":"quantitative"},"x2":{"datum":-1.19},"y":{"datum":2.96,"type":"quantitative"},"y2":{"datum":1.91}}},
 {"data":{"values":[{}]},"mark":{"type":"text","align":"left","baseline":"middle","fontSize":15},"encoding":{"x":{"datum":-3.56,"type":"quantitative"},"y":{"datum":2.27,"type":"quantitative"},"text":{"value":"X-axis"}}}
]},
{"width":184,"height":149,"data":{"name":"p2"},"layer":[
 {"mark":{"type":"line"},"encoding":{"x":{"field":"x","type":"quantitative","scale":{"domain":[-4,4],"nice":false,"zero":false},"axis":{"values":[-4,-2,0,2,4],"tickCount":20,"labelOverlap":false,"offset":-74.5,"title":null}},"y":{"field":"y","type":"quantitative","scale":{"domain":[-5,5],"nice":false,"zero":false},"axis":{"values":[-5,-2.5,0,2.5,5],"tickCount":20,"labelOverlap":false,"offset":-92,"title":null}},"color":{"field":"s","type":"nominal","scale":{"domain":["Test","Analysis"],"range":["black","red"]},"legend":null},"order":{"field":"i","type":"quantitative"}}},
 {"data":{"values":[{}]},"mark":{"type":"rect","fill":"white"},"encoding":{"x":{"datum":-3.96,"type":"quantitative"},"x2":{"datum":-1.22},"y":{"datum":4.93,"type":"quantitative"},"y2":{"datum":3.19}}},
 {"data":{"values":[{}]},"mark":{"type":"text","align":"left","baseline":"middle","fontSize":15},"encoding":{"x":{"datum":-3.57,"type":"quantitative"},"y":{"datum":3.79,"type":"quantitative"},"text":{"value":"Y-axis"}}}
]},
{"width":9,"height":1,"view":{"stroke":null},"data":{"values":[{}]},"mark":{"type":"text"},"encoding":{"text":{"value":""}}},
{"width":180,"height":149,"data":{"name":"p3"},"layer":[
 {"mark":{"type":"line"},"encoding":{"x":{"field":"x","type":"quantitative","scale":{"domain":[-5,5],"nice":false,"zero":false},"axis":{"values":[-5,-2.5,0,2.5,5],"tickCount":20,"labelOverlap":false,"offset":-74.5,"title":null}},"y":{"field":"y","type":"quantitative","scale":{"domain":[-6,6],"nice":false,"zero":false},"axis":{"values":[-6,-4,-2,0,2,4,6],"tickCount":20,"labelOverlap":false,"offset":-90,"title":"Torsion Moment Load m[kNcm]","titleX":-110,"titleY":167}},"color":{"field":"s","type":"nominal","scale":{"domain":["Test","Analysis"],"range":["black","red"]},"legend":{"orient":"none","legendX":39,"legendY":-25,"direction":"horizontal","title":null,"symbolType":"stroke","symbolSize":170,"symbolStrokeWidth":2,"labelFontSize":{"expr":"datum.label === 'Test' ? 18 : 14"},"labelOffset":5,"columnPadding":16,"labelFont":"Liberation Serif","labelColor":"black"}},"order":{"field":"i","type":"quantitative"}}},
 {"data":{"values":[{}]},"mark":{"type":"rect","fill":"white"},"encoding":{"x":{"datum":-4.94,"type":"quantitative"},"x2":{"datum":-1.44},"y":{"datum":5.92,"type":"quantitative"},"y2":{"datum":3.83}}},
 {"data":{"values":[{}]},"mark":{"type":"text","align":"left","baseline":"middle","fontSize":15},"encoding":{"x":{"datum":-4.44,"type":"quantitative"},"y":{"datum":4.55,"type":"quantitative"},"text":{"value":"M-axis"}}}
]},
{"width":182,"height":150,"title":{"text":"13mm","subtitle":"———","subtitleFontSize":15,"subtitlePadding":-10,"dx":3,"offset":-2},"data":{"name":"p4"},"layer":[
 {"mark":{"type":"line"},"encoding":{"x":{"field":"x","type":"quantitative","scale":{"domain":[-18,18],"nice":false,"zero":false},"axis":{"values":[-18,-12,-6,0,6,12,18],"tickCount":20,"labelOverlap":false,"offset":-75,"title":"Story Displacement  δ[mm]","titleX":189,"titleY":95}},"y":{"field":"y","type":"quantitative","scale":{"domain":[-4,4],"nice":false,"zero":false},"axis":{"values":[-4,-2,0,2,4],"tickCount":20,"labelOverlap":false,"offset":-91,"title":null}},"color":{"field":"s","type":"nominal","scale":{"domain":["Test","Analysis"],"range":["black","red"]},"legend":null},"order":{"field":"i","type":"quantitative"}}},
 {"data":{"values":[{}]},"mark":{"type":"rect","fill":"white"},"encoding":{"x":{"datum":-17.8,"type":"quantitative"},"x2":{"datum":-5.34},"y":{"datum":3.95,"type":"quantitative"},"y2":{"datum":2.56}}},
 {"data":{"values":[{}]},"mark":{"type":"text","align":"left","baseline":"middle","fontSize":15},"encoding":{"x":{"datum":-16.02,"type":"quantitative"},"y":{"datum":3.04,"type":"quantitative"},"text":{"value":"X-axis"}}}
]},
{"width":184,"height":150,"data":{"name":"p5"},"layer":[
 {"mark":{"type":"line"},"encoding":{"x":{"field":"x","type":"quantitative","scale":{"domain":[-18,18],"nice":false,"zero":false},"axis":{"values":[-18,-12,-6,0,6,12,18],"tickCount":20,"labelOverlap":false,"offset":-75,"title":"(a)Concentric Model","titleX":89,"titleY":118}},"y":{"field":"y","type":"quantitative","scale":{"domain":[-6,6],"nice":false,"zero":false},"axis":{"values":[-6,-4,-2,0,2,4,6],"tickCount":20,"labelOverlap":false,"offset":-92,"title":null}},"color":{"field":"s","type":"nominal","scale":{"domain":["Test","Analysis"],"range":["black","red"]},"legend":null},"order":{"field":"i","type":"quantitative"}}},
 {"data":{"values":[{}]},"mark":{"type":"rect","fill":"white"},"encoding":{"x":{"datum":-17.8,"type":"quantitative"},"x2":{"datum":-5.48},"y":{"datum":5.92,"type":"quantitative"},"y2":{"datum":3.84}}},
 {"data":{"values":[{}]},"mark":{"type":"text","align":"left","baseline":"middle","fontSize":15},"encoding":{"x":{"datum":-16.04,"type":"quantitative"},"y":{"datum":4.56,"type":"quantitative"},"text":{"value":"Y-axis"}}}
]},
{"width":9,"height":1,"view":{"stroke":null},"data":{"values":[{}]},"mark":{"type":"text"},"encoding":{"text":{"value":""}}},
{"width":180,"height":150,"data":{"name":"p6"},"layer":[
 {"mark":{"type":"line"},"encoding":{"x":{"field":"x","type":"quantitative","scale":{"domain":[-18,18],"nice":false,"zero":false},"axis":{"values":[-18,-12,-6,0,6,12,18],"tickCount":20,"labelOverlap":false,"offset":-75,"title":"Torsion Rigidity  θ[ × 10⁻³rad]","titleX":88,"titleY":94}},"y":{"field":"y","type":"quantitative","scale":{"domain":[-8,8],"nice":false,"zero":false},"axis":{"values":[-8,-4,0,4,8],"tickCount":20,"labelOverlap":false,"offset":-90,"title":null}},"color":{"field":"s","type":"nominal","scale":{"domain":["Test","Analysis"],"range":["black","red"]},"legend":null},"order":{"field":"i","type":"quantitative"}}},
 {"data":{"values":[{}]},"mark":{"type":"rect","fill":"white"},"encoding":{"x":{"datum":-17.8,"type":"quantitative"},"x2":{"datum":-5.2},"y":{"datum":7.9,"type":"quantitative"},"y2":{"datum":5.12}}},
 {"data":{"values":[{}]},"mark":{"type":"text","align":"left","baseline":"middle","fontSize":15},"encoding":{"x":{"datum":-16,"type":"quantitative"},"y":{"datum":6.08,"type":"quantitative"},"text":{"value":"M-axis"}}}
]},
{"width":1,"height":1,"view":{"stroke":null},"data":{"values":[{}]},"mark":{"type":"text"},"encoding":{"text":{"value":""}}},
{"width":1,"height":1,"view":{"stroke":null},"data":{"values":[{}]},"mark":{"type":"text"},"encoding":{"text":{"value":""}}},
{"width":9,"height":1,"view":{"stroke":null},"data":{"values":[{}]},"mark":{"type":"text"},"encoding":{"text":{"value":""}}},
{"width":1,"height":1,"view":{"stroke":null},"data":{"values":[{}]},"mark":{"type":"text"},"encoding":{"text":{"value":""}}},
{"width":182,"height":148,"title":{"text":"3mm","subtitle":"———","subtitleFontSize":13,"subtitlePadding":-9,"dx":4,"offset":-2},"data":{"name":"p7"},"layer":[
 {"mark":{"type":"line"},"encoding":{"x":{"field":"x","type":"quantitative","scale":{"domain":[-4,4],"nice":false,"zero":false},"axis":{"values":[-4,-2,0,2,4],"tickCount":20,"labelOverlap":false,"offset":-74,"title":null}},"y":{"field":"y","type":"quantitative","scale":{"domain":[-8,8],"nice":false,"zero":false},"axis":{"values":[-8,-4,0,4,8],"tickCount":20,"labelOverlap":false,"offset":-91,"title":"Story Share Force Q[kN]","titleX":-113,"titleY":169}},"color":{"field":"s","type":"nominal","scale":{"domain":["Test","Analysis"],"range":["black","red"]},"legend":null},"order":{"field":"i","type":"quantitative"}}},
 {"data":{"values":[{}]},"mark":{"type":"rect","fill":"white"},"encoding":{"x":{"datum":-3.96,"type":"quantitative"},"x2":{"datum":-1.19},"y":{"datum":7.9,"type":"quantitative"},"y2":{"datum":5.08}}},
 {"data":{"values":[{}]},"mark":{"type":"text","align":"left","baseline":"middle","fontSize":15},"encoding":{"x":{"datum":-3.56,"type":"quantitative"},"y":{"datum":6.05,"type":"quantitative"},"text":{"value":"X-axis"}}}
]},
{"width":184,"height":148,"data":{"name":"p8"},"layer":[
 {"mark":{"type":"line"},"encoding":{"x":{"field":"x","type":"quantitative","scale":{"domain":[-4,4],"nice":false,"zero":false},"axis":{"values":[-4,-2,0,2,4],"tickCount":20,"labelOverlap":false,"offset":-74,"title":null}},"y":{"field":"y","type":"quantitative","scale":{"domain":[-12,12],"nice":false,"zero":false},"axis":{"values":[-12,-8,-4,0,4,8,12],"tickCount":20,"labelOverlap":false,"offset":-92,"title":null}},"color":{"field":"s","type":"nominal","scale":{"domain":["Test","Analysis"],"range":["black","red"]},"legend":null},"order":{"field":"i","type":"quantitative"}}},
 {"data":{"values":[{}]},"mark":{"type":"rect","fill":"white"},"encoding":{"x":{"datum":-3.96,"type":"quantitative"},"x2":{"datum":-1.22},"y":{"datum":11.85,"type":"quantitative"},"y2":{"datum":7.62}}},
 {"data":{"values":[{}]},"mark":{"type":"text","align":"left","baseline":"middle","fontSize":15},"encoding":{"x":{"datum":-3.57,"type":"quantitative"},"y":{"datum":9.08,"type":"quantitative"},"text":{"value":"Y-axis"}}}
]},
{"width":9,"height":1,"view":{"stroke":null},"data":{"values":[{}]},"mark":{"type":"text"},"encoding":{"text":{"value":""}}},
{"width":180,"height":148,"data":{"name":"p9"},"layer":[
 {"mark":{"type":"line"},"encoding":{"x":{"field":"x","type":"quantitative","scale":{"domain":[-8,8],"nice":false,"zero":false},"axis":{"values":[-8,-4,0,4,8],"tickCount":20,"labelOverlap":false,"offset":-74,"title":null}},"y":{"field":"y","type":"quantitative","scale":{"domain":[-800,800],"nice":false,"zero":false},"axis":{"values":[-800,-400,0,400,800],"tickCount":20,"labelOverlap":false,"offset":-90,"title":"Torsion Moment Load m[kNcm]","titleX":-110,"titleY":168}},"color":{"field":"s","type":"nominal","scale":{"domain":["Test","Analysis"],"range":["black","red"]},"legend":{"orient":"none","legendX":39,"legendY":-25,"direction":"horizontal","title":null,"symbolType":"stroke","symbolSize":170,"symbolStrokeWidth":2,"labelFontSize":{"expr":"datum.label === 'Test' ? 18 : 14"},"labelOffset":5,"columnPadding":16,"labelFont":"Liberation Serif","labelColor":"black"}},"order":{"field":"i","type":"quantitative"}}},
 {"data":{"values":[{}]},"mark":{"type":"rect","fill":"white"},"encoding":{"x":{"datum":-7.9,"type":"quantitative"},"x2":{"datum":-2.31},"y":{"datum":790,"type":"quantitative"},"y2":{"datum":508}}},
 {"data":{"values":[{}]},"mark":{"type":"text","align":"left","baseline":"middle","fontSize":15},"encoding":{"x":{"datum":-7.11,"type":"quantitative"},"y":{"datum":605,"type":"quantitative"},"text":{"value":"M-axis"}}}
]},
{"width":182,"height":155,"title":{"text":"30mm","subtitle":"———","subtitleFontSize":15,"subtitlePadding":-10,"dx":5,"offset":0},"data":{"name":"p10"},"layer":[
 {"mark":{"type":"line"},"encoding":{"x":{"field":"x","type":"quantitative","scale":{"domain":[-40,40],"nice":false,"zero":false},"axis":{"values":[-40,-20,0,20,40],"tickCount":20,"labelOverlap":false,"offset":-77.5,"title":"Story Displacement  δ[mm]","titleX":196,"titleY":96}},"y":{"field":"y","type":"quantitative","scale":{"domain":[-15,15],"nice":false,"zero":false},"axis":{"values":[-15,-10,-5,0,5,10,15],"tickCount":20,"labelOverlap":false,"offset":-91,"title":null}},"color":{"field":"s","type":"nominal","scale":{"domain":["Test","Analysis"],"range":["black","red"]},"legend":null},"order":{"field":"i","type":"quantitative"}}},
 {"data":{"values":[{}]},"mark":{"type":"rect","fill":"white"},"encoding":{"x":{"datum":-39.6,"type":"quantitative"},"x2":{"datum":-11.87},"y":{"datum":14.8,"type":"quantitative"},"y2":{"datum":9.77}}},
 {"data":{"values":[{}]},"mark":{"type":"text","align":"left","baseline":"middle","fontSize":15},"encoding":{"x":{"datum":-35.6,"type":"quantitative"},"y":{"datum":11.9,"type":"quantitative"},"text":{"value":"X-axis"}}}
]},
{"width":184,"height":155,"data":{"name":"p11"},"layer":[
 {"mark":{"type":"line"},"encoding":{"x":{"field":"x","type":"quantitative","scale":{"domain":[-40,40],"nice":false,"zero":false},"axis":{"values":[-40,-20,0,20,40],"tickCount":20,"labelOverlap":false,"offset":-77.5,"title":"(b)Eccentric Model","titleX":91,"titleY":116}},"y":{"field":"y","type":"quantitative","scale":{"domain":[-20,20],"nice":false,"zero":false},"axis":{"values":[-20,-10,0,10,20],"tickCount":20,"labelOverlap":false,"offset":-92,"title":null}},"color":{"field":"s","type":"nominal","scale":{"domain":["Test","Analysis"],"range":["black","red"]},"legend":null},"order":{"field":"i","type":"quantitative"}}},
 {"data":{"values":[{}]},"mark":{"type":"rect","fill":"white"},"encoding":{"x":{"datum":-39.6,"type":"quantitative"},"x2":{"datum":-12.17},"y":{"datum":19.74,"type":"quantitative"},"y2":{"datum":13.03}}},
 {"data":{"values":[{}]},"mark":{"type":"text","align":"left","baseline":"middle","fontSize":15},"encoding":{"x":{"datum":-35.65,"type":"quantitative"},"y":{"datum":15.35,"type":"quantitative"},"text":{"value":"Y-axis"}}}
]},
{"width":9,"height":1,"view":{"stroke":null},"data":{"values":[{}]},"mark":{"type":"text"},"encoding":{"text":{"value":""}}},
{"width":180,"height":155,"data":{"name":"p12"},"layer":[
 {"mark":{"type":"line"},"encoding":{"x":{"field":"x","type":"quantitative","scale":{"domain":[-120,120],"nice":false,"zero":false},"axis":{"values":[-120,-60,0,60,120],"tickCount":20,"labelOverlap":false,"offset":-77.5,"title":"Torsion Rigidity  θ[ × 10⁻³rad]","titleX":86,"titleY":94}},"y":{"field":"y","type":"quantitative","scale":{"domain":[-1200,1200],"nice":false,"zero":false},"axis":{"values":[-1200,-600,0,600,1200],"tickCount":20,"labelOverlap":false,"offset":-90,"title":null}},"color":{"field":"s","type":"nominal","scale":{"domain":["Test","Analysis"],"range":["black","red"]},"legend":null},"order":{"field":"i","type":"quantitative"}}},
 {"data":{"values":[{}]},"mark":{"type":"rect","fill":"white"},"encoding":{"x":{"datum":-118.7,"type":"quantitative"},"x2":{"datum":-34.7},"y":{"datum":1185,"type":"quantitative"},"y2":{"datum":782}}},
 {"data":{"values":[{}]},"mark":{"type":"text","align":"left","baseline":"middle","fontSize":15},"encoding":{"x":{"datum":-106.7,"type":"quantitative"},"y":{"datum":921,"type":"quantitative"},"text":{"value":"M-axis"}}}
]}
]
}
